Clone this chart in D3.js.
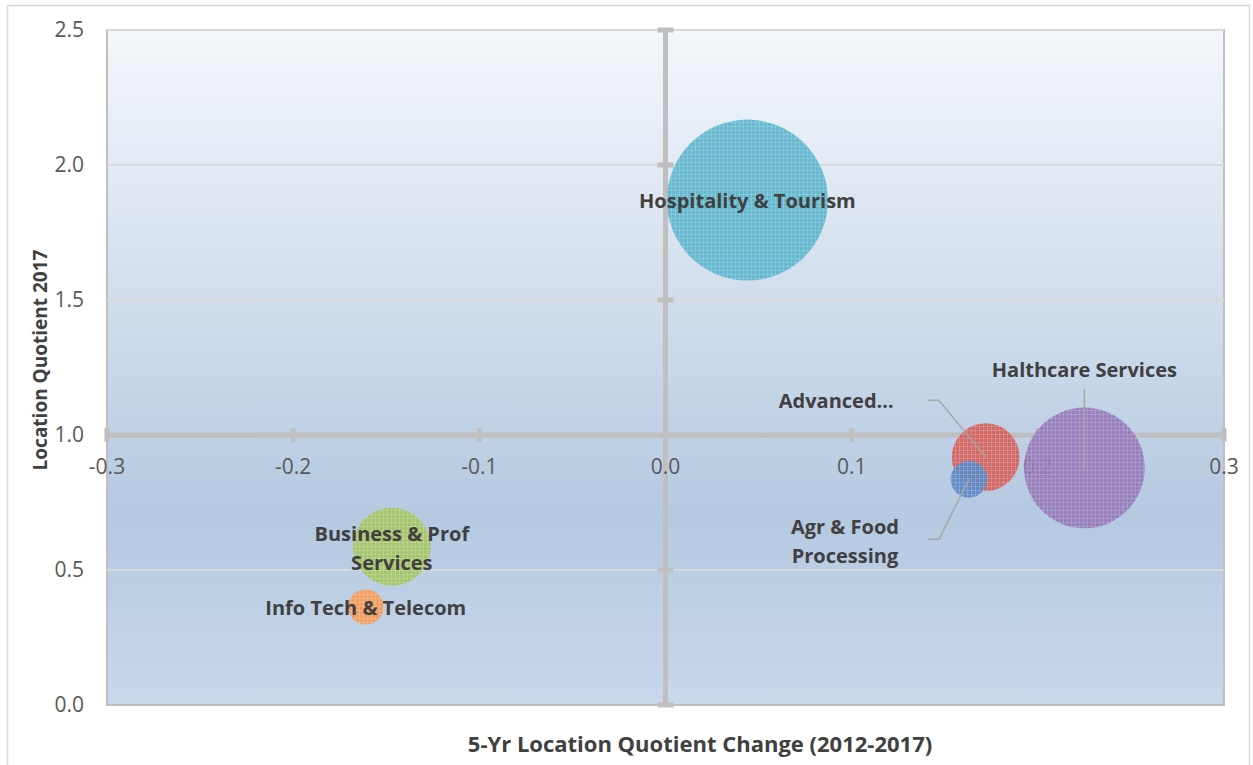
<!DOCTYPE html>
<html>
<head>
<meta charset="utf-8">
<script src="https://cdn.jsdelivr.net/npm/d3@7"></script>
<style>
  body { margin: 0; background: #fff; }
  svg { display: block; font-family: "Open Sans", "Noto Sans", sans-serif; }
</style>
</head>
<body>
<div id="chart"></div>
<script>
// --- data
const clusters = ['Hospitality & Tourism', 'Halthcare Services', 'Advanced…', 'Agr & Food Processing', 'Business & Prof Services', 'Info Tech & Telecom'];
const lqChange = [0.044, 0.225, 0.172, 0.163, -0.147, -0.161];
const lq2017 = [1.87, 0.878, 0.918, 0.836, 0.586, 0.363];
const jobs = [6500, 3650, 1150, 340, 1520, 310];
const colors = ['#5bb5cc', '#9479b8', '#d3605c', '#5b88c4', '#a5c464', '#f59a55'];
const xTicks = [-0.3, -0.2, -0.1, 0.0, 0.1, 0.2, 0.3];
const yTicks = [0.0, 0.5, 1.0, 1.5, 2.0, 2.5];

const width = 1253, height = 765;
const margin = { top: 30, right: 29, bottom: 60, left: 107 };
const w = width - margin.left - margin.right;
const h = height - margin.top - margin.bottom;

const svg = d3.select('#chart').append('svg')
    .attr('width', width).attr('height', height);

// outer frame
svg.append('rect')
    .attr('x', 7.5).attr('y', 5.5).attr('width', width - 11).attr('height', height - 4)
    .attr('fill', '#fff').attr('stroke', '#d9d9d9').attr('stroke-width', 1.5);

const defs = svg.append('defs');
const grad = defs.append('linearGradient').attr('id', 'bg')
    .attr('x1', 0).attr('y1', 0).attr('x2', 0).attr('y2', 1);
grad.append('stop').attr('offset', '0%').attr('stop-color', '#f4f7fb');
grad.append('stop').attr('offset', '72%').attr('stop-color', '#b5c9e1');
grad.append('stop').attr('offset', '100%').attr('stop-color', '#c9d8eb');

// fine check pattern per bubble colour
colors.forEach((c, i) => {
    const p = defs.append('pattern').attr('id', 'pat' + i)
        .attr('patternUnits', 'userSpaceOnUse').attr('width', 4).attr('height', 4);
    p.append('rect').attr('width', 4).attr('height', 4).attr('fill', c);
    p.append('rect').attr('width', 4).attr('height', 1).attr('fill', '#fff').attr('opacity', 0.18);
    p.append('rect').attr('width', 1).attr('height', 4).attr('fill', '#fff').attr('opacity', 0.18);
});

const x = d3.scaleLinear().domain([-0.3, 0.3]).range([0, w]);
const y = d3.scaleLinear().domain([0, 2.5]).range([h, 0]);
const r = d3.scaleSqrt().domain([0, d3.max(jobs)]).range([0, 80.5]);

const g = svg.append('g').attr('transform', `translate(${margin.left},${margin.top})`);

g.append('rect').attr('width', w).attr('height', h)
    .attr('fill', 'url(#bg)').attr('stroke', '#bfbfbf').attr('stroke-width', 2);

// horizontal gridlines
g.append('g').selectAll('line')
    .data(yTicks.filter(v => v !== 1.0 && v !== 0))
    .join('line')
    .attr('x1', 0).attr('x2', w)
    .attr('y1', d => y(d)).attr('y2', d => y(d))
    .attr('stroke', '#d9d9d9').attr('stroke-width', 2);

// cross axes
const axisColor = '#bfbfbf';
const x0 = x(0), y1 = y(1.0);
g.append('line').attr('x1', x0).attr('x2', x0).attr('y1', 0).attr('y2', h)
    .attr('stroke', axisColor).attr('stroke-width', 5);
g.append('line').attr('x1', 0).attr('x2', w).attr('y1', y1).attr('y2', y1)
    .attr('stroke', axisColor).attr('stroke-width', 5);

// tick marks on the axes
g.append('g').selectAll('line').data(yTicks).join('line')
    .attr('x1', x0 - 8).attr('x2', x0 + 8)
    .attr('y1', d => y(d)).attr('y2', d => y(d))
    .attr('stroke', axisColor).attr('stroke-width', 5);
g.append('g').selectAll('line').data(xTicks).join('line')
    .attr('x1', d => x(d)).attr('x2', d => x(d))
    .attr('y1', y1 - 7).attr('y2', y1 + 7)
    .attr('stroke', axisColor).attr('stroke-width', 5);

// tick labels
g.append('g').selectAll('text').data(yTicks).join('text')
    .attr('x', -23).attr('y', d => y(d)).attr('dy', '0.35em')
    .attr('text-anchor', 'end').attr('fill', '#595959').attr('font-size', 21)
    .text(d => d.toFixed(1));
g.append('g').selectAll('text').data(xTicks).join('text')
    .attr('x', d => x(d)).attr('y', y1 + 39)
    .attr('text-anchor', 'middle').attr('fill', '#595959').attr('font-size', 21)
    .text(d => d.toFixed(1));

// bubbles (largest first)
const idx = d3.range(clusters.length).sort((a, b) => jobs[b] - jobs[a]);
g.append('g').selectAll('circle').data(idx).join('circle')
    .attr('cx', i => x(lqChange[i])).attr('cy', i => y(lq2017[i]))
    .attr('r', i => r(jobs[i]))
    .attr('fill', i => `url(#pat${i})`)
    .attr('opacity', 0.92);

// leader lines
const lc = '#a6a6a6';
const leaders = g.append('g').attr('fill', 'none').attr('stroke', lc).attr('stroke-width', 1.5);
{
    const cx = x(lqChange[1]), cy = y(lq2017[1]);
    leaders.append('path').attr('d', `M${cx},${cy} V${cy - 79}`);
}
{
    const cx = x(lqChange[2]), cy = y(lq2017[2]);
    leaders.append('path').attr('d', `M${cx},${cy} L${cx - 47},${cy - 57} h-11`);
}
{
    const cx = x(lqChange[3]), cy = y(lq2017[3]);
    leaders.append('path').attr('d', `M${cx},${cy} L${cx - 30},${cy + 60} h-11`);
}

// data labels
const labelStyle = sel => sel.attr('font-size', 20).attr('font-weight', 'bold')
    .attr('fill', '#404040').attr('font-family', '"Open Sans", "Noto Sans", sans-serif');
const labels = [
    { i: 0, dx: 0, dy: 1, lines: ['Hospitality & Tourism'], anchor: 'middle' },
    { i: 1, dx: 0, dy: -98, lines: ['Halthcare Services'], anchor: 'middle' },
    { i: 2, dx: -92, dy: -56, lines: ['Advanced…'], anchor: 'end' },
    { i: 3, dx: -124, dy: 48, lines: ['Agr & Food', 'Processing'], anchor: 'middle' },
    { i: 4, dx: 0, dy: -13, lines: ['Business & Prof', 'Services'], anchor: 'middle' },
    { i: 5, dx: 0, dy: 1, lines: ['Info Tech & Telecom'], anchor: 'middle' }
];
labels.forEach(l => {
    const cx = x(lqChange[l.i]) + l.dx, cy = y(lq2017[l.i]) + l.dy;
    const t = g.append('text').attr('text-anchor', l.anchor).call(labelStyle);
    l.lines.forEach((s, k) => {
        t.append('tspan').attr('x', cx).attr('y', cy + k * 29).attr('dy', '0.35em').text(s);
    });
});

// axis titles
svg.append('text')
    .attr('x', 700).attr('y', 744).attr('dy', '0.35em')
    .attr('text-anchor', 'middle').call(labelStyle).attr('font-size', 22)
    .text('5-Yr Location Quotient Change (2012-2017)');
svg.append('text')
    .attr('transform', `translate(40,360) rotate(-90)`)
    .attr('dy', '0.35em').attr('text-anchor', 'middle').call(labelStyle).attr('font-size', 19)
    .text('Location Quotient 2017');
</script>
</body>
</html>
